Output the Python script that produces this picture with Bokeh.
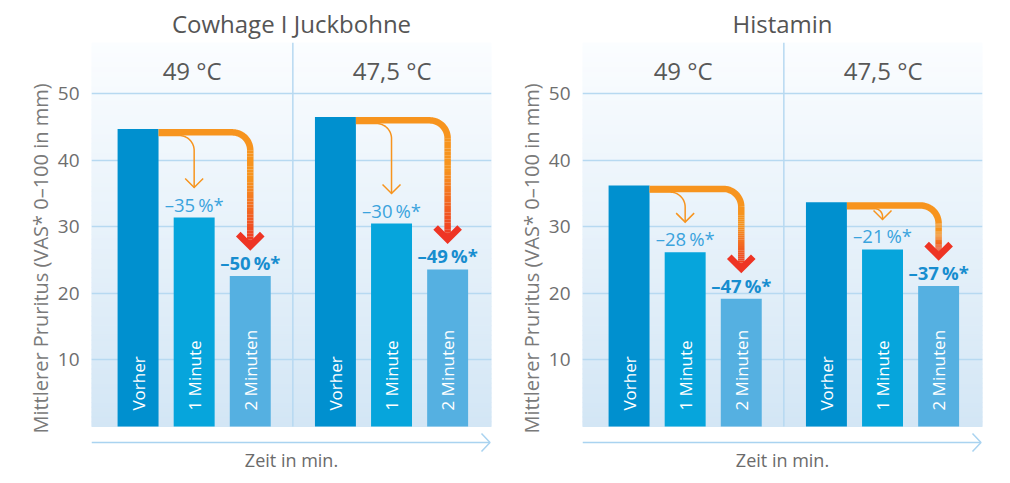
import numpy as np
from bokeh.plotting import figure
from bokeh.layouts import row
from bokeh.models import Range1d, FixedTicker
from bokeh.core.properties import value
from bokeh.embed import file_html
from bokeh.resources import INLINE

# ---------------- data ----------------
panel_titles = ["Cowhage I Juckbohne", "Histamin"]
temperatures = ["49 °C", "47,5 °C"]
time_points = ["Vorher", "1 Minute", "2 Minuten"]
cowhage_49 = [44.7, 31.4, 22.6]
cowhage_475 = [46.5, 30.5, 23.6]
histamin_49 = [36.2, 26.2, 19.2]
histamin_475 = [33.7, 26.6, 21.1]
cowhage_pct_49 = ["–35\u2009%*", "–50\u2009%*"]
cowhage_pct_475 = ["–30\u2009%*", "–49\u2009%*"]
histamin_pct_49 = ["–28\u2009%*", "–47\u2009%*"]
histamin_pct_475 = ["–21\u2009%*", "–37\u2009%*"]
y_ticks = [10, 20, 30, 40, 50]
y_title = "Mittlerer Pruritus (VAS* 0–100 in mm)"
x_title = "Zeit in min."

# ---------------- style / layout ----------------
FONT = "Open Sans"
X0, X1 = -0.83, 6.30
Y0, Y1 = -7.21, 57.7
FRAME_W, FRAME_H = 400, 432
PX_X = FRAME_W / (X1 - X0)
PX_Y = FRAME_H / (Y1 - Y0)
GROUP_STEP = 3.518
BAR_W = 0.73
BAR_COLORS = ["#0090cf", "#06a5dc", "#55b0e1"]
GRID = "#b7d9f1"
ORANGE = np.array([247, 148, 30])
RED = np.array([238, 52, 36])
BG_TOP = np.array([251, 253, 255])
BG_BOT = np.array([211, 230, 245])


def hexc(rgb):
    r, g, b = [int(round(v)) for v in rgb]
    return "#%02x%02x%02x" % (r, g, b)


def arrow(p, x_start, y_start, x_end, y_tip, r_px, width, thick):
    drop_px = (y_start - y_tip) * PX_Y
    r = min(r_px, drop_px - 3)
    t = np.linspace(np.pi / 2, 0, 20)
    cx = x_end - r / PX_X
    cy = y_start - r / PX_Y
    xs = [x_start] + list(cx + r * np.cos(t) / PX_X)
    ys = [y_start] + list(cy + r * np.sin(t) / PX_Y)
    orange = hexc(ORANGE)
    if not thick:
        xs.append(x_end)
        ys.append(y_tip)
        p.line(xs, ys, line_color=orange, line_width=width, line_cap="butt", line_join="round")
        head_col = orange
        hw, hh = 9, 9
    else:
        p.line(xs, ys, line_color=orange, line_width=width, line_cap="butt", line_join="round")
        n = 30
        yy = np.linspace(cy, y_tip, n + 1)
        cols = []
        for i in range(n):
            f = (i + 0.5) / n
            k = 0 if f < 0.3 else (f - 0.3) / 0.7
            cols.append(hexc(ORANGE + (RED - ORANGE) * k))
        p.segment(x0=[x_end] * n, y0=yy[:-1], x1=[x_end] * n, y1=yy[1:],
                  line_color=cols, line_width=width, line_cap="butt")
        head_col = hexc(RED)
        hw, hh = 12, 12
    p.line([x_end - hw / PX_X, x_end, x_end + hw / PX_X],
           [y_tip + hh / PX_Y, y_tip, y_tip + hh / PX_Y],
           line_color=head_col, line_width=width, line_join="miter", line_cap="butt")


def make_panel(title, groups, border_left, border_right):
    p = figure(width=border_left + FRAME_W + border_right, height=42 + FRAME_H + 4,
               x_range=Range1d(X0, X1), y_range=Range1d(Y0, Y1),
               output_backend="svg", toolbar_location=None,
               min_border_left=border_left, min_border_right=border_right,
               min_border_top=42, min_border_bottom=4, title=title)
    p.title.align = "center"
    p.title.text_font = FONT
    p.title.text_font_size = "24px"
    p.title.text_font_style = "normal"
    p.title.text_color = "#555555"
    p.title.standoff = 6
    p.outline_line_color = None
    p.background_fill_color = "white"
    p.border_fill_color = "white"

    # background gradient
    n = 80
    edges = np.linspace(0, Y1, n + 1)
    cols = [hexc(BG_BOT + (BG_TOP - BG_BOT) * ((i + 0.5) / n)) for i in range(n)]
    bg = p.quad(left=X0, right=X1, bottom=edges[:-1], top=edges[1:],
                fill_color=cols, line_color=cols, line_width=1)
    bg.level = "image"

    # axes
    p.xgrid.visible = False
    p.xaxis.visible = False
    p.yaxis.ticker = FixedTicker(ticks=y_ticks)
    p.ygrid.grid_line_color = GRID
    p.ygrid.grid_line_width = 1.5
    p.yaxis.axis_line_color = None
    p.yaxis.major_tick_line_color = None
    p.yaxis.minor_tick_line_color = None
    p.yaxis.major_label_standoff = 6
    p.yaxis.major_label_text_font = FONT
    p.yaxis.major_label_text_font_size = "19px"
    p.yaxis.major_label_text_color = "#6e6e6e"
    p.yaxis.axis_label = y_title
    p.yaxis.axis_label_standoff = 1
    p.yaxis.axis_label_text_font = FONT
    p.yaxis.axis_label_text_font_size = "20px"
    p.yaxis.axis_label_text_font_style = "normal"
    p.yaxis.axis_label_text_color = "#7a7a7a"

    # x axis arrow + label
    ya = -2.4
    p.line([X0, X1 - 1.5 / PX_X], [ya, ya], line_color="#a9d3f0", line_width=1.5)
    p.line([X1 - 10 / PX_X, X1 - 1.5 / PX_X, X1 - 10 / PX_X],
           [ya + 9 / PX_Y, ya, ya - 9 / PX_Y], line_color="#a9d3f0", line_width=1.5)
    p.text(x=[(X0 + X1) / 2], y=[-5.1], text=[x_title], text_align="center",
           text_baseline="middle", text_color="#6b6b6b",
           text_font=value(FONT), text_font_size="18px")

    # divider
    div = (2 + GROUP_STEP) / 2
    d = p.segment(x0=[div], y0=[0], x1=[div], y1=[Y1], line_color=GRID, line_width=1.5)
    d.level = "underlay"

    bounds = [(X0, div), (div, X1)]
    for g, (temp, vals, pcts) in enumerate(groups):
        xs = [g * GROUP_STEP + i for i in range(3)]
        p.vbar(x=xs, top=vals, bottom=0, width=BAR_W, fill_color=BAR_COLORS, line_color=None)
        p.text(x=xs, y=[2.4] * 3, text=time_points, angle=np.pi / 2,
               text_align="left", text_baseline="middle", text_color="white",
               text_font=value(FONT), text_font_size="17px")
        p.text(x=[sum(bounds[g]) / 2], y=[53.5], text=[temp], text_align="center",
               text_baseline="middle", text_color="#585858",
               text_font=value(FONT), text_font_size="24px")
        gap = 1 / PX_Y
        p.text(x=[xs[1]], y=[vals[1] + gap], text=[pcts[0]], text_align="center",
               text_baseline="bottom", text_color="#3aa3dd",
               text_font=value(FONT), text_font_size="18.5px")
        p.text(x=[xs[2]], y=[vals[2] + gap], text=[pcts[1]], text_align="center",
               text_baseline="bottom", text_color="#178dcf", text_font_style="bold",
               text_font=value(FONT), text_font_size="18.5px")
        x_edge = xs[0] + BAR_W / 2
        # thin arrow
        arrow(p, x_edge, vals[0] - 6.5 / PX_Y, xs[1], vals[1] + 30 / PX_Y, 15, 1.5, False)
        # thick arrow
        arrow(p, x_edge, vals[0] - 3.3 / PX_Y, xs[2], vals[2] + 30 / PX_Y, 18, 6.5, True)
    return p


p1 = make_panel(panel_titles[0],
                [(temperatures[0], cowhage_49, cowhage_pct_49),
                 (temperatures[1], cowhage_475, cowhage_pct_475)], 91, 9)
p2 = make_panel(panel_titles[1],
                [(temperatures[0], histamin_49, histamin_pct_49),
                 (temperatures[1], histamin_475, histamin_pct_475)], 82, 18)

layout = row(p1, p2, spacing=0)
open("out.html", "w").write(file_html(layout, INLINE))
